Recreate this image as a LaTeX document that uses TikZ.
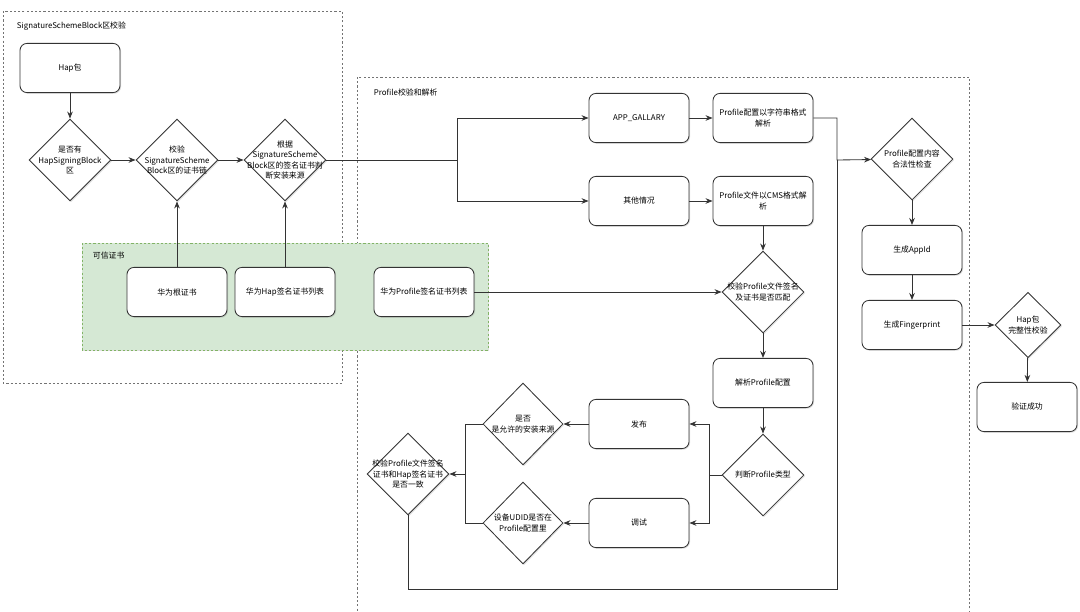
\documentclass[tikz,border=0pt]{standalone}
\usepackage{fontspec}
\setmainfont{Noto Sans CJK SC}
\usetikzlibrary{arrows.meta,shapes.geometric,shadows}
\definecolor{trustfill}{HTML}{D5E8D4}
\definecolor{trustline}{HTML}{82B366}

\begin{document}
\begin{tikzpicture}[x=0.025cm,y=-0.025cm,
  font=\fontsize{5.6}{7.6}\selectfont,
  shade/.style={drop shadow={opacity=.25,shadow xshift=.8pt,shadow yshift=-.8pt}},
  box/.style={draw=black!80,line width=.6pt,rounded corners=5pt,fill=white,shade,
    minimum width=2.5cm,minimum height=1.23cm,align=center,inner sep=1pt},
  dec/.style={draw=black!80,line width=.6pt,diamond,fill=white,shade,
    minimum width=2.05cm,minimum height=2.05cm,inner sep=0pt},
  txt/.style={align=center,inner sep=0pt},
  area/.style={draw=black!55,line width=.5pt,dash pattern=on 1.5pt off 1.5pt},
  line/.style={draw=black!80,line width=.6pt},
  arr/.style={line,-{Stealth[length=5pt,width=4pt]}}]
\useasboundingbox (0,0) rectangle (1080,612);
%areas
\draw[area] (3,11) rectangle (342,383);
\node[anchor=west] (lblsig) at (12,26) {SignatureSchemeBlock区校验};
\draw[area] (357,77) rectangle (969,640);
\node[anchor=west] (lblpro) at (369,92) {Profile校验和解析};
\draw[draw=trustline,fill=trustfill,line width=.5pt,dash pattern=on 1.5pt off 1.5pt,shade]
  (82,243) rectangle (488,350);
\node[anchor=west] (lbltrust) at (88,256) {可信证书};
%signature block
\node[box] (hap) at (70,68) {Hap包};
\node[dec,label={[txt]center:是否有\\HapSigningBlock\\区}] (hsb) at (70,160) {};
\node[dec,label={[txt]center:校验\\SignatureScheme\\Block区的证书链}] (chain) at (177,160) {};
\node[dec,label={[txt,font=\fontsize{5.6}{7.2}\selectfont]center:根据\\SignatureScheme\\Block区的签名证书判\\断安装来源}] (src) at (285,160) {};
%trusted certificates
\node[box] (root) at (177,292) {华为根证书};
\node[box] (hapcert) at (285,292) {华为Hap签名证书列表};
\node[box] (procert) at (424,292) {华为Profile签名证书列表};
%profile
\node[box] (gallery) at (639,118) {APP\_GALLARY};
\node[box] (strparse) at (763,118) {Profile配置以字符串格式\\解析};
\node[box] (other) at (639,201) {其他情况};
\node[box] (cmsparse) at (763,201) {Profile文件以CMS格式解\\析};
\node[dec,label={[txt]center:校验Profile文件签名\\及证书是否匹配}] (match) at (763,292) {};
\node[box] (parse) at (763,383) {解析Profile配置};
\node[dec,label={[txt]center:判断Profile类型}] (type) at (763,475) {};
\node[box] (release) at (639,424) {发布};
\node[box] (debug) at (639,523) {调试};
\node[dec,minimum width=2cm,minimum height=2.05cm,label={[txt]center:是否\\是允许的安装来源}] (allow) at (523,424) {};
\node[dec,minimum width=2cm,minimum height=2.05cm,label={[txt]center:设备UDID是否在\\Profile配置里}] (udid) at (523,523) {};
\node[dec,label={[txt]center:校验Profile文件签名\\证书和Hap签名证书\\是否一致}] (same) at (408,474) {};
%result
\node[dec,label={[txt]center:Profile配置内容\\合法性检查}] (check) at (912,159) {};
\node[box] (appid) at (912,250) {生成AppId};
\node[box] (finger) at (912,325) {生成Fingerprint};
\node[dec,minimum width=1.65cm,minimum height=1.63cm,label={[txt]center:Hap包\\完整性校验}] (integ) at (1028,325) {};
\node[box] (ok) at (1027,407) {验证成功};
%joints
\coordinate (fork) at (457,160);
\coordinate (split) at (709,475);
\coordinate (merge) at (465,474);
\coordinate (join) at (837,160);
\coordinate (loop) at (837,589);
%connectors
\draw[arr] (hap) -- (hsb);
\draw[arr] (hsb) -- (chain);
\draw[arr] (chain) -- (src);
\draw[arr] (root) -- (chain);
\draw[arr] (hapcert) -- (src);
\draw[line] (src) -- (fork);
\draw[arr] (fork) |- (gallery);
\draw[arr] (fork) |- (other);
\draw[arr] (gallery) -- (strparse);
\draw[arr] (other) -- (cmsparse);
\draw[arr] (cmsparse) -- (match);
\draw[arr] (procert) -- (match);
\draw[arr] (match) -- (parse);
\draw[arr] (parse) -- (type);
\draw[line] (type) -- (split);
\draw[arr] (split) |- (release);
\draw[arr] (split) |- (debug);
\draw[arr] (release) -- (allow);
\draw[arr] (debug) -- (udid);
\draw[line] (allow) -| (merge);
\draw[line] (udid) -| (merge);
\draw[arr] (merge) -- (same);
\draw[line] (same) |- (loop) -- (join);
\draw[arr] (strparse) -| (join) -- (check);
\draw[arr] (check) -- (appid);
\draw[arr] (appid) -- (finger);
\draw[arr] (finger) -- (integ);
\draw[arr] (integ) -- (ok);
\end{tikzpicture}
\end{document}
